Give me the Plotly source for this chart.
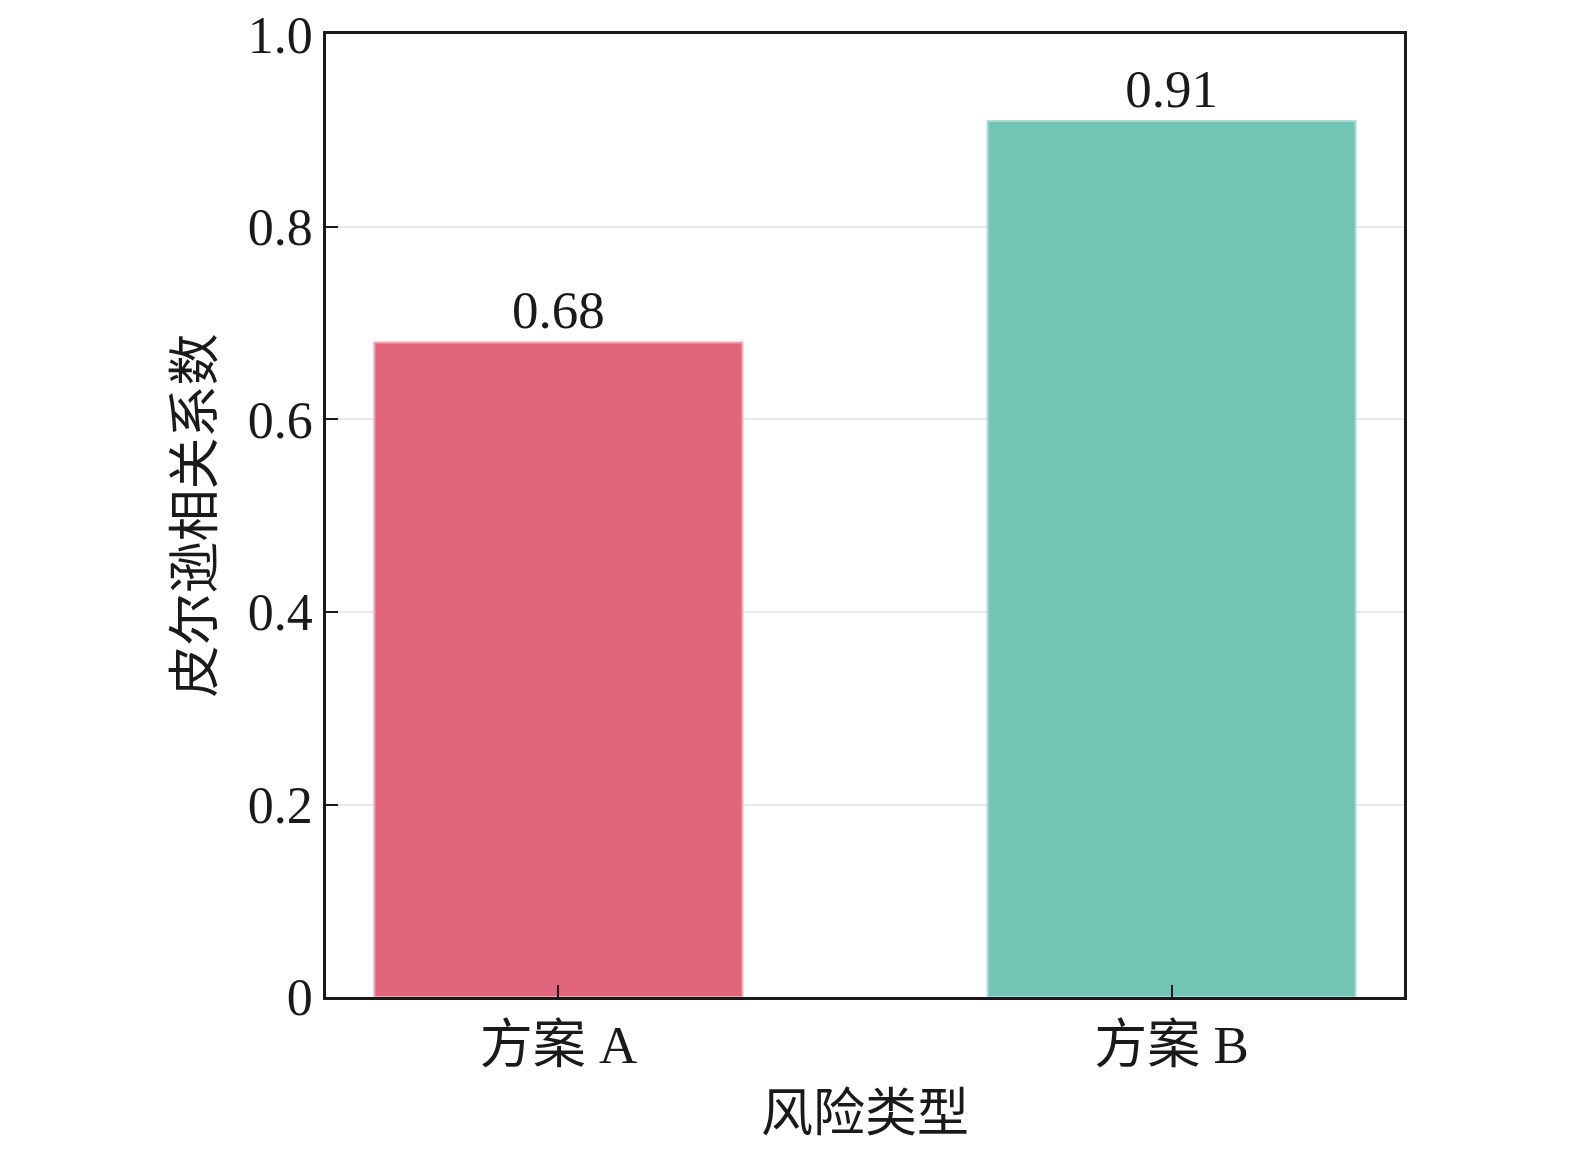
import plotly.graph_objects as go

# ======================================
# DATA
# ======================================

categories = ["方案 A", "方案 B"]
pearson_values = [0.68, 0.91]
value_labels = ["0.68", "0.91"]
bar_colors = ["#E2667B", "#72C4B4"]
line_colors = ["#F0A3B0", "#A9DDD2"]

y_tick_vals = [0, 0.2, 0.4, 0.6, 0.8, 1.0]
y_tick_text = ["0", "0.2", "0.4", "0.6", "0.8", "1.0"]

font_family = "Times New Roman, Liberation Serif, Noto Sans CJK SC, serif"

# ======================================
# FIGURE
# ======================================

fig = go.Figure()

fig.add_trace(
    go.Bar(
        x=categories,
        y=pearson_values,
        text=value_labels,
        textposition="outside",
        cliponaxis=False,
        width=0.6,
        marker=dict(
            color=bar_colors,
            line=dict(color=line_colors, width=2)
        ),
        textfont=dict(size=53, color="#1a1a1a", family=font_family),
        showlegend=False
    )
)

fig.update_layout(
    width=1575,
    height=1150,
    margin=dict(l=318, r=179, t=26, b=161),
    plot_bgcolor="white",
    paper_bgcolor="white",
    font=dict(family=font_family, size=53, color="#1a1a1a"),
    bargap=0.4
)

fig.update_xaxes(
    range=[-0.379, 1.379],
    automargin=False,
    showline=True,
    linecolor="#1a1a1a",
    linewidth=2.5,
    mirror=True,
    ticks="inside",
    ticklen=12,
    tickwidth=2,
    tickcolor="#1a1a1a",
    showgrid=False,
    tickfont=dict(size=53),
    title=dict(text="风险类型", font=dict(size=52), standoff=22)
)

fig.update_yaxes(
    range=[0, 1.0005],
    automargin=False,
    ticklabeloverflow="allow",
    tickvals=y_tick_vals,
    ticktext=y_tick_text,
    showline=True,
    linecolor="#1a1a1a",
    linewidth=2.5,
    mirror=True,
    ticks="inside",
    ticklen=12,
    tickwidth=2,
    tickcolor="#1a1a1a",
    showgrid=True,
    gridcolor="#e8e8e8",
    gridwidth=1.5,
    zeroline=False,
    tickfont=dict(size=52),
    title=dict(text="皮尔逊相关系数", font=dict(size=52), standoff=18)
)

fig.write_html("out.html")
